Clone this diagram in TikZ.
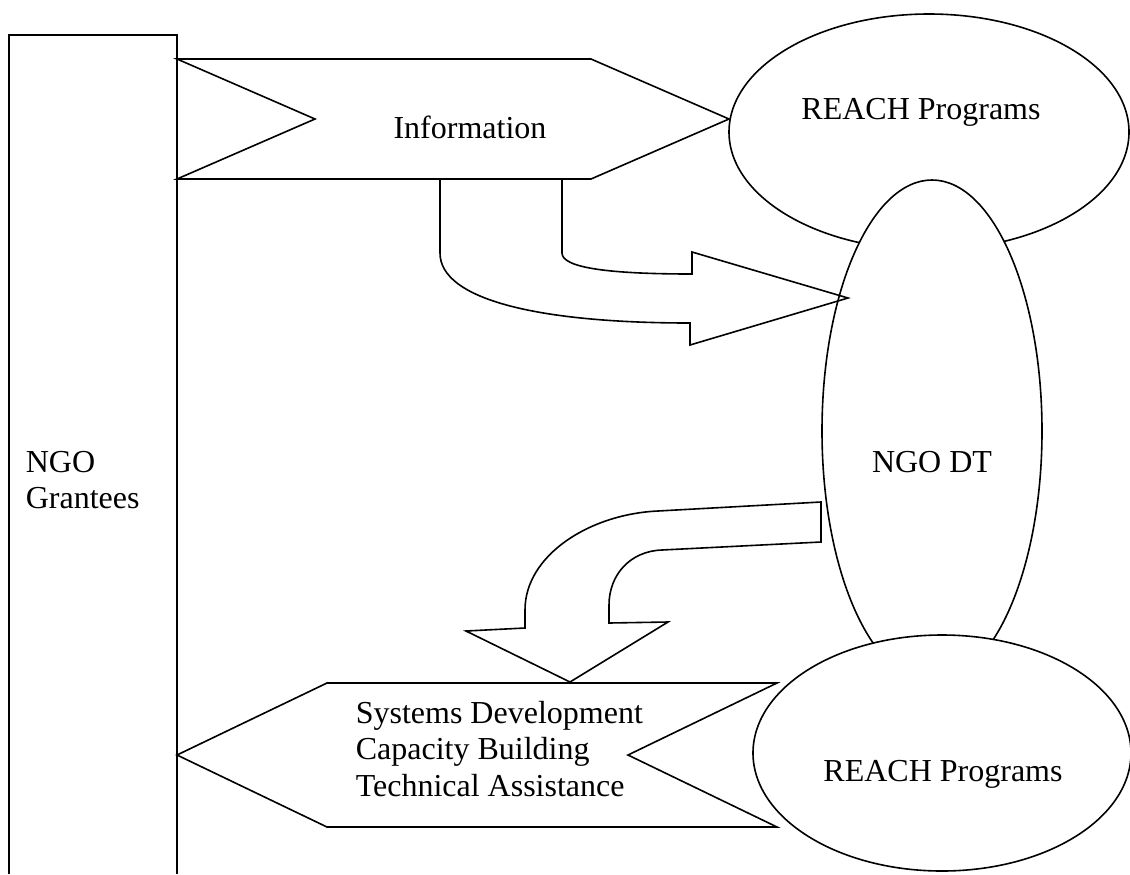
\documentclass[tikz,border=0pt]{standalone}
\usepackage{fontspec}
\setmainfont{Liberation Serif}
\usetikzlibrary{shapes.geometric}
\begin{document}
\begin{tikzpicture}[x=0.5pt,y=-0.5pt,line width=0.8pt,
        bubble/.style={draw,ellipse,fill=white,inner sep=0pt},
        txt/.style={font=\fontsize{16}{18.25}\selectfont,inner sep=0pt,align=left}]
        \useasboundingbox (0,0) rectangle (1130,874);

        %ellissi
        \node[bubble,minimum width=200pt,minimum height=118pt] (reachtop) at (929,132) {};
        \node[bubble,minimum width=110pt,minimum height=251pt] (ngodt) at (932,431) {};
        \node[bubble,minimum width=189pt,minimum height=118pt] (reachbot) at (942,753) {};
        \coordinate (infotip) at (729,119);

        %colonna grantees
        \draw (9,874)--(9,35)--(177,35)--(177,874);

        %freccia information
        \draw (177,59)--(591,59)--(infotip)--(591,179)--(177,179)--(315,119)--cycle;

        %freccia curva sopra
        \draw (440,179)--(440,253) .. controls (440,300) and (540,323) .. (690,323)
         --(690,345)--(848,298)--(692,252)--(692,274)
         .. controls (610,274) and (562,268) .. (562,253)--(562,179);

        %freccia curva sotto
        \draw (821,502)--(658,511) .. controls (590,514) and (525,555) .. (525,610)
         --(525,628)--(466,631)--(570,682)--(668,622)--(609,623)--(609,605)
         .. controls (609,575) and (630,551) .. (662,550)--(821,542)--cycle;

        %freccia verso grantees
        \draw (177,755)--(327,683)--(777,683)--(628,755)--(777,827)--(327,827)--cycle;

        %testi
        \node[txt] (reachtoptxt) at (921,112) {REACH Programs};
        \node[txt] (ngodttxt) at (932,462) {NGO DT};
        \node[txt] (reachbottxt) at (943,774) {REACH Programs};
        \node[txt] (infotxt) at (470,127) {Information};
        \node[txt,anchor=west] (granteestxt) at (25,480) {NGO\\Grantees};
        \node[txt,anchor=west] (supporttxt) at (355,749) {Systems Development\\Capacity Building\\Technical Assistance};

    \end{tikzpicture}
\end{document}
